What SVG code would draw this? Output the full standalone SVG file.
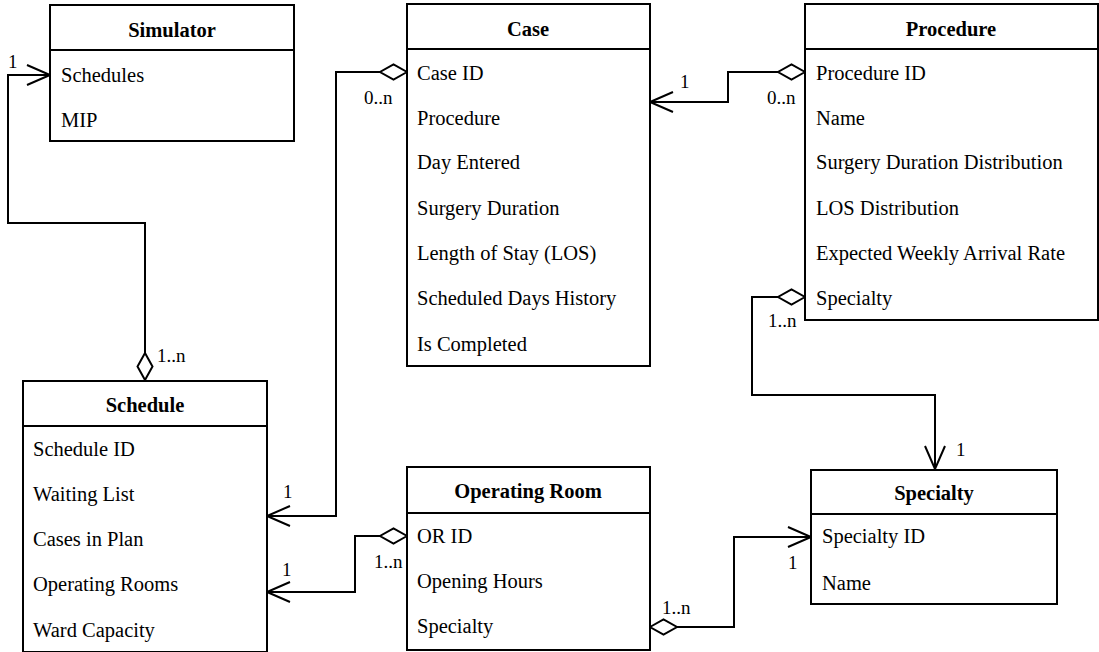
<svg xmlns="http://www.w3.org/2000/svg" width="1099" height="652" viewBox="0 0 1099 652">
  <style>
    .box { fill: #fff; stroke: #000; stroke-width: 2; }
    .sep { stroke: #000; stroke-width: 2; }
    text { font-family: 'Liberation Serif', 'Times New Roman', Times, serif; fill: #000; }
    .title { font-size: 20.5px; font-weight: bold; text-anchor: middle; }
    .attr { font-size: 20.5px; }
    .mult { font-size: 19px; }
    .link { fill: none; stroke: #000; stroke-width: 2; marker-start: url(#diamond); marker-end: url(#arrow); }
  </style>
  <defs>
    <!-- hollow aggregation diamond, tip sits on the owning class -->
    <marker id="diamond" viewBox="-2 -10 31 20" refX="0" refY="0" markerWidth="31" markerHeight="20" markerUnits="userSpaceOnUse" orient="auto">
      <path d="M0,0 L13.5,-7.5 L27,0 L13.5,7.5 Z" fill="#fff" stroke="#000" stroke-width="2"/>
    </marker>
    <!-- open navigation arrowhead -->
    <marker id="arrow" viewBox="-26 -13 28 26" refX="0" refY="0" markerWidth="28" markerHeight="26" markerUnits="userSpaceOnUse" orient="auto">
      <path d="M-23,-10 L0,0 L-23,10" fill="none" stroke="#000" stroke-width="2"/>
    </marker>
  </defs>

  <rect width="1099" height="652" fill="#fff"/>

  <g id="connectors">
    <path class="link" d="M145,380 V223 H8 V75 H50"/>
    <path class="link" d="M407,72 H336 V516 H267"/>
    <path class="link" d="M805,72 H728 V102 H650"/>
    <path class="link" d="M805,297 H752 V395 H935 V469"/>
    <path class="link" d="M407,536 H355 V592 H267"/>
    <path class="link" d="M650,627 H734 V537 H811"/>
    <text class="mult" x="8" y="68">1</text>
    <text class="mult" x="157" y="362">1..n</text>
    <text class="mult" x="364" y="104">0..n</text>
    <text class="mult" x="283" y="498">1</text>
    <text class="mult" x="680" y="88">1</text>
    <text class="mult" x="767" y="104">0..n</text>
    <text class="mult" x="768" y="327">1..n</text>
    <text class="mult" x="956" y="456">1</text>
    <text class="mult" x="282" y="576">1</text>
    <text class="mult" x="374" y="568">1..n</text>
    <text class="mult" x="662" y="614">1..n</text>
    <text class="mult" x="788" y="569">1</text>
  </g>

  <g id="simulator">
    <rect class="box" x="50" y="5" width="244" height="136"/>
    <line class="sep" x1="50" y1="50" x2="294" y2="50"/>
    <text class="title" x="172" y="37">Simulator</text>
    <text class="attr" x="61" y="82">Schedules</text>
    <text class="attr" x="61" y="127">MIP</text>
  </g>

  <g id="case">
    <rect class="box" x="407" y="4" width="243" height="362"/>
    <line class="sep" x1="407" y1="49" x2="650" y2="49"/>
    <text class="title" x="528" y="36">Case</text>
    <text class="attr" x="417" y="80">Case ID</text>
    <text class="attr" x="417" y="125">Procedure</text>
    <text class="attr" x="417" y="169">Day Entered</text>
    <text class="attr" x="417" y="215">Surgery Duration</text>
    <text class="attr" x="417" y="260">Length of Stay (LOS)</text>
    <text class="attr" x="417" y="305">Scheduled Days History</text>
    <text class="attr" x="417" y="351">Is Completed</text>
  </g>

  <g id="procedure">
    <rect class="box" x="805" y="4" width="293" height="316"/>
    <line class="sep" x1="805" y1="49" x2="1098" y2="49"/>
    <text class="title" x="951" y="36">Procedure</text>
    <text class="attr" x="816" y="80">Procedure ID</text>
    <text class="attr" x="816" y="125">Name</text>
    <text class="attr" x="816" y="169">Surgery Duration Distribution</text>
    <text class="attr" x="816" y="215">LOS Distribution</text>
    <text class="attr" x="816" y="260">Expected Weekly Arrival Rate</text>
    <text class="attr" x="816" y="305">Specialty</text>
  </g>

  <g id="schedule">
    <rect class="box" x="23" y="381" width="244" height="271"/>
    <line class="sep" x1="23" y1="426" x2="267" y2="426"/>
    <text class="title" x="145" y="412">Schedule</text>
    <text class="attr" x="33" y="456">Schedule ID</text>
    <text class="attr" x="33" y="501">Waiting List</text>
    <text class="attr" x="33" y="546">Cases in Plan</text>
    <text class="attr" x="33" y="591">Operating Rooms</text>
    <text class="attr" x="33" y="637">Ward Capacity</text>
  </g>

  <g id="operating-room">
    <rect class="box" x="407" y="467" width="243" height="183"/>
    <line class="sep" x1="407" y1="513" x2="650" y2="513"/>
    <text class="title" x="528" y="498">Operating Room</text>
    <text class="attr" x="417" y="543">OR ID</text>
    <text class="attr" x="417" y="588">Opening Hours</text>
    <text class="attr" x="417" y="633">Specialty</text>
  </g>

  <g id="specialty">
    <rect class="box" x="811" y="470" width="246" height="134"/>
    <line class="sep" x1="811" y1="514" x2="1057" y2="514"/>
    <text class="title" x="934" y="500">Specialty</text>
    <text class="attr" x="822" y="543">Specialty ID</text>
    <text class="attr" x="822" y="590">Name</text>
  </g>
</svg>
